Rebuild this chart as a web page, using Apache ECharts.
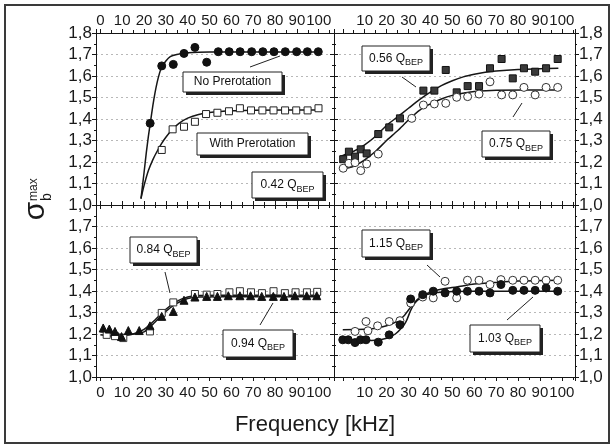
<!DOCTYPE html>
<html><head><meta charset="utf-8">
<script src="https://cdn.jsdelivr.net/npm/echarts@6/dist/echarts.min.js"></script>
<style>html,body{margin:0;padding:0;background:#fff}#c{width:614px;height:448px}</style>
</head><body><div id="c"></div>
<script>
// ---------- data ----------
// top-left panel (0.42 Q_BEP)
const tlNoPreX = [22.8,28.1,33.4,38.3,43.3,48.7,54,59,64,69.3,74.4,79.5,84.7,89.9,94.8,99.8];
const tlNoPreY = [1.38,1.647,1.654,1.705,1.733,1.664,1.713,1.713,1.713,1.713,1.713,1.713,1.713,1.713,1.713,1.713];
const tlWithPreX = [28.1,33.1,38.3,43.3,48.4,53.6,58.9,63.9,69,74.2,79.3,84.6,89.7,94.9,99.9];
const tlWithPreY = [1.256,1.352,1.364,1.387,1.423,1.429,1.436,1.45,1.44,1.44,1.44,1.44,1.44,1.44,1.45];
const tlFitNoX = [18.6,20,21,22,23,24,25,26,27,28,30,32,35,40,50,100];
const tlFitNoY = [1.03,1.15,1.24,1.32,1.39,1.46,1.52,1.57,1.61,1.64,1.67,1.69,1.70,1.708,1.712,1.712];
const tlFitWithX = [18.6,20,22,24,26,28,30,33,36,40,45,50,55,60,70,100];
const tlFitWithY = [1.03,1.09,1.16,1.21,1.25,1.285,1.315,1.352,1.38,1.404,1.421,1.43,1.435,1.438,1.441,1.442];
// top-right panel (0.56 squares, 0.75 circles)
const trSqX = [0.2,2.8,5.6,8.2,10.9,16.2,21.2,26.1,36.8,41.8,47,52,57,62.2,67.2,72.5,77.6,82.7,87.8,92.8,98.1];
const trSqY = [1.213,1.248,1.225,1.259,1.24,1.33,1.361,1.403,1.532,1.532,1.628,1.524,1.553,1.553,1.636,1.679,1.589,1.636,1.62,1.636,1.679];
const trCirX = [0.2,2.8,5.6,8.2,10.9,16.2,31.5,36.8,41.8,47,52,57,62.2,67.2,72.5,77.6,82.7,87.8,92.8,98.1];
const trCirY = [1.171,1.194,1.197,1.16,1.191,1.237,1.403,1.465,1.47,1.473,1.501,1.504,1.516,1.573,1.512,1.512,1.547,1.512,1.547,1.547];
const trFitSqX = [-1.3,5,10,15,20,25,30,35,40,45,50,55,60,65,70,80,90,98.4];
const trFitSqY = [1.225,1.25,1.28,1.32,1.37,1.41,1.45,1.49,1.525,1.555,1.578,1.596,1.608,1.617,1.623,1.63,1.634,1.636];
const trFitCirX = [-1.3,5,10,15,20,25,30,35,40,45,50,55,60,70,98.4];
const trFitCirY = [1.163,1.18,1.21,1.25,1.3,1.345,1.395,1.44,1.47,1.493,1.51,1.52,1.528,1.534,1.535];
// bottom-left panel (0.84 squares, 0.94 triangles)
const blTriX = [1.3,4.1,6.7,9.7,12.8,17.8,22.7,28.1,33.4,38.3,43.3,48.7,53.6,58.6,63.9,68.8,73.9,79.2,84.1,89.1,94.5,99.1];
const blTriY = [1.228,1.223,1.212,1.188,1.216,1.216,1.238,1.282,1.305,1.357,1.372,1.375,1.375,1.378,1.378,1.378,1.375,1.375,1.375,1.378,1.378,1.378];
const blSqX = [2.9,6.7,10.5,22.7,28.1,33.4,43.3,48.7,53.6,59.1,63.9,69,74,79.3,84.5,89.4,94.6,99.3];
const blSqY = [1.196,1.19,1.181,1.212,1.298,1.347,1.386,1.383,1.386,1.394,1.399,1.394,1.39,1.399,1.39,1.394,1.394,1.396];
const blFitSqX = [0,5,10,15,20,25,30,35,40,45,55,100.6];
const blFitSqY = [1.196,1.19,1.192,1.2,1.222,1.265,1.315,1.352,1.372,1.379,1.38,1.38];
const blFitTriX = [0,5,10,15,20,25,30,35,40,45,55,100.6];
const blFitTriY = [1.21,1.205,1.198,1.2,1.21,1.255,1.305,1.342,1.365,1.372,1.373,1.373];
// bottom-right panel (1.15 open circles, 1.03 filled circles)
const brFillX = [0,2.5,5.6,8.1,10.6,16.2,21.2,26.1,31,36.5,41.3,46.7,52,56.9,62.2,67.2,72.2,77.6,82.7,87.8,92.8,98.1];
const brFillY = [1.173,1.173,1.16,1.173,1.173,1.162,1.196,1.243,1.363,1.383,1.399,1.391,1.399,1.399,1.399,1.391,1.43,1.403,1.403,1.403,1.414,1.399];
const brOpenX = [5.6,10.6,11.5,15.9,21.2,26.1,31,36.5,41.3,46.7,52,56.9,62.2,67.2,72.2,77.6,82.7,87.8,92.8,98.1];
const brOpenY = [1.212,1.258,1.215,1.238,1.258,1.262,1.344,1.372,1.368,1.445,1.368,1.45,1.45,1.43,1.453,1.45,1.45,1.45,1.45,1.45];
const brFitOpenX = [0,10,15,20,25,28,31,34,37,41,46,52,60,70,80,99.2];
const brFitOpenY = [1.22,1.222,1.227,1.238,1.26,1.285,1.325,1.36,1.382,1.398,1.41,1.419,1.432,1.44,1.446,1.45];
const brFitFillX = [0,10,15,20,24,27,29,31,33,35,38,42,48,60,99.2];
const brFitFillY = [1.17,1.17,1.171,1.18,1.2,1.23,1.26,1.31,1.345,1.365,1.382,1.392,1.397,1.399,1.399];

const labelsQ = ['0.42','0.56','0.75','0.84','0.94','1.15','1.03'];
const xTitle = 'Frequency [kHz]';

// ---------- helpers ----------
const zip = (xs, ys) => xs.map((x, i) => [x, ys[i]]);
const NARROW = '"Liberation Sans Narrow","Arial Narrow","Liberation Sans",Arial,sans-serif';
const FONT = '"Liberation Sans",Arial,sans-serif';
const INK = '#161616';

const grids = [
  {left: 96, top: 33, width: 238, height: 172},
  {left: 334, top: 33, width: 241, height: 172},
  {left: 96, top: 205, width: 238, height: 172},
  {left: 334, top: 205, width: 241, height: 172}
];
const xRange = [[-2,107],[-4,106],[-2,107],[-4,106]];

const xAxes = [], yAxes = [];
grids.forEach((g, gi) => {
  const isTop = gi < 2, isRight = gi % 2 === 1;
  ['bottom','top'].forEach(pos => {
    const showLab = (isTop && pos === 'top') || (!isTop && pos === 'bottom');
    xAxes.push({
      type: 'value', gridIndex: gi, position: pos,
      min: xRange[gi][0], max: xRange[gi][1], splitNumber: 11,
      axisLine: {show: true, onZero: false, lineStyle: {color: INK, width: 1}},
      axisTick: {show: true, inside: false, length: 4, lineStyle: {color: INK}},
      minorTick: {show: true, splitNumber: 2, length: 3, lineStyle: {color: INK}},
      splitLine: {show: false},
      axisLabel: {
        show: showLab, margin: pos === 'top' ? 5 : 8,
        fontSize: 15, fontFamily: NARROW, color: '#1a1a1a',
        formatter: v => {
          if (v < 0 || v > 100 || Math.abs(v % 10) > 1e-6) return '';
          if (isRight && v === 0) return '';
          return String(v);
        }
      }
    });
  });
  ['left','right'].forEach(pos => {
    const showLab = (!isRight && pos === 'left') || (isRight && pos === 'right');
    yAxes.push({
      type: 'value', gridIndex: gi, position: pos,
      min: 1.0, max: 1.8, interval: 0.1,
      axisLine: {show: true, onZero: false, lineStyle: {color: INK, width: 1}},
      axisTick: {show: true, inside: false, length: 4, lineStyle: {color: INK}},
      minorTick: {show: true, splitNumber: 2, length: 2, lineStyle: {color: INK}},
      splitLine: {show: pos === 'left', lineStyle: {color: '#b8b8b8', type: [2, 3], width: 1}},
      axisLabel: {
        show: showLab, margin: 4,
        fontSize: 17, fontFamily: NARROW, color: '#1a1a1a',
        formatter: v => {
          if (!isTop && v > 1.75) return '';
          return v.toFixed(1).replace('.', ',');
        }
      }
    });
  });
});

function fit(gi, xs, ys) {
  return {type: 'line', xAxisIndex: gi * 2, yAxisIndex: gi * 2, data: zip(xs, ys),
    smooth: 0.25, symbol: 'none', silent: true,
    lineStyle: {color: INK, width: 1.5}, z: 2};
}
function pts(gi, xs, ys, symbol, size, fill, border) {
  return {type: 'scatter', xAxisIndex: gi * 2, yAxisIndex: gi * 2, data: zip(xs, ys),
    symbol: symbol, symbolSize: size,
    itemStyle: {color: fill, borderColor: border, borderWidth: 1, opacity: 1}, z: 3};
}

const series = [
  fit(0, tlFitNoX, tlFitNoY), fit(0, tlFitWithX, tlFitWithY),
  pts(0, tlNoPreX, tlNoPreY, 'circle', 8, '#111', '#111'),
  pts(0, tlWithPreX, tlWithPreY, 'rect', 7, '#fff', '#222'),
  fit(1, trFitSqX, trFitSqY), fit(1, trFitCirX, trFitCirY),
  pts(1, trSqX, trSqY, 'rect', 7, '#3a3a3a', '#111'),
  pts(1, trCirX, trCirY, 'circle', 8, '#fff', '#333'),
  fit(2, blFitSqX, blFitSqY), fit(2, blFitTriX, blFitTriY),
  pts(2, blSqX, blSqY, 'rect', 7, '#fff', '#333'),
  pts(2, blTriX, blTriY, 'triangle', 8, '#111', '#111'),
  fit(3, brFitOpenX, brFitOpenY), fit(3, brFitFillX, brFitFillY),
  pts(3, brOpenX, brOpenY, 'circle', 8, '#fff', '#333'),
  pts(3, brFillX, brFillY, 'circle', 8, '#151515', '#111')
];

// ---------- annotations ----------
const boxes = [
  {x: 183, y: 72, w: 99, h: 20, t: 'No Prerotation'},
  {x: 197, y: 133, w: 111, h: 22, t: 'With Prerotation'},
  {x: 252, y: 172, w: 71, h: 26, q: labelsQ[0]},
  {x: 362, y: 46, w: 68, h: 25, q: labelsQ[1]},
  {x: 482, y: 131, w: 68, h: 26, q: labelsQ[2]},
  {x: 130, y: 237, w: 67, h: 26, q: labelsQ[3]},
  {x: 223, y: 330, w: 70, h: 27, q: labelsQ[4]},
  {x: 362, y: 230, w: 68, h: 27, q: labelsQ[5]},
  {x: 470, y: 325, w: 70, h: 27, q: labelsQ[6]}
];
const pointers = [
  [250,67,280,56],[402,77,416,87],[513,117,522,103],[165,272,170,293],
  [260,325,273,303],[427,265,440,277],[507,320,533,297]
];
const graphic = [
  {type: 'rect', shape: {x: 5, y: 5, width: 604, height: 438},
   style: {fill: 'none', stroke: '#3a3a3a', lineWidth: 2}, z: 0, silent: true}
];
boxes.forEach(b => {
  graphic.push({type: 'rect', shape: {x: b.x + 3, y: b.y + 3, width: b.w, height: b.h},
    style: {fill: '#222'}, z: 10, silent: true});
  graphic.push({type: 'rect', shape: {x: b.x, y: b.y, width: b.w, height: b.h},
    style: {fill: '#fff', stroke: '#222', lineWidth: 1}, z: 11, silent: true});
  graphic.push({type: 'text', x: b.x + b.w / 2, y: b.y + b.h / 2, z: 12, silent: true,
    style: b.t ? {text: b.t, font: '12px ' + FONT, fill: '#111', align: 'center', verticalAlign: 'middle'}
      : {text: '{a|' + b.q + ' Q}{b|BEP}', align: 'center', verticalAlign: 'middle', fill: '#111',
         rich: {a: {fontSize: 12, fontFamily: FONT, lineHeight: 18, verticalAlign: 'middle', fill: '#111'},
                b: {fontSize: 9, fontFamily: FONT, verticalAlign: 'bottom', fill: '#111'}}}});
});
pointers.forEach(p => {
  graphic.push({type: 'line', shape: {x1: p[0], y1: p[1], x2: p[2], y2: p[3]},
    style: {stroke: '#222', lineWidth: 1}, z: 9, silent: true});
});
// x axis title
graphic.push({type: 'text', x: 315, y: 425, z: 5, silent: true,
  style: {text: xTitle, font: '22px ' + FONT, fill: '#1a1a1a', align: 'center', verticalAlign: 'middle'}});
// y axis title sigma_b^max (rotated)
graphic.push({type: 'group', x: 38, y: 211, rotation: Math.PI / 2, z: 5, silent: true, children: [
  {type: 'text', x: 0, y: -2, style: {text: 'σ', font: '30px ' + FONT, fill: '#1a1a1a', align: 'center', verticalAlign: 'middle'}},
  {type: 'text', x: 10, y: -4, style: {text: 'max', font: '12px ' + FONT, fill: '#1a1a1a', align: 'left', verticalAlign: 'middle'}},
  {type: 'text', x: 10, y: 9, style: {text: 'b', font: '14px ' + FONT, fill: '#1a1a1a', align: 'left', verticalAlign: 'middle'}}
]});

const chart = echarts.init(document.getElementById('c'), null, {renderer: 'canvas'});
chart.setOption({
  animation: false,
  backgroundColor: '#fff',
  grid: grids,
  xAxis: xAxes,
  yAxis: yAxes,
  series: series,
  graphic: graphic
});
</script></body></html>
